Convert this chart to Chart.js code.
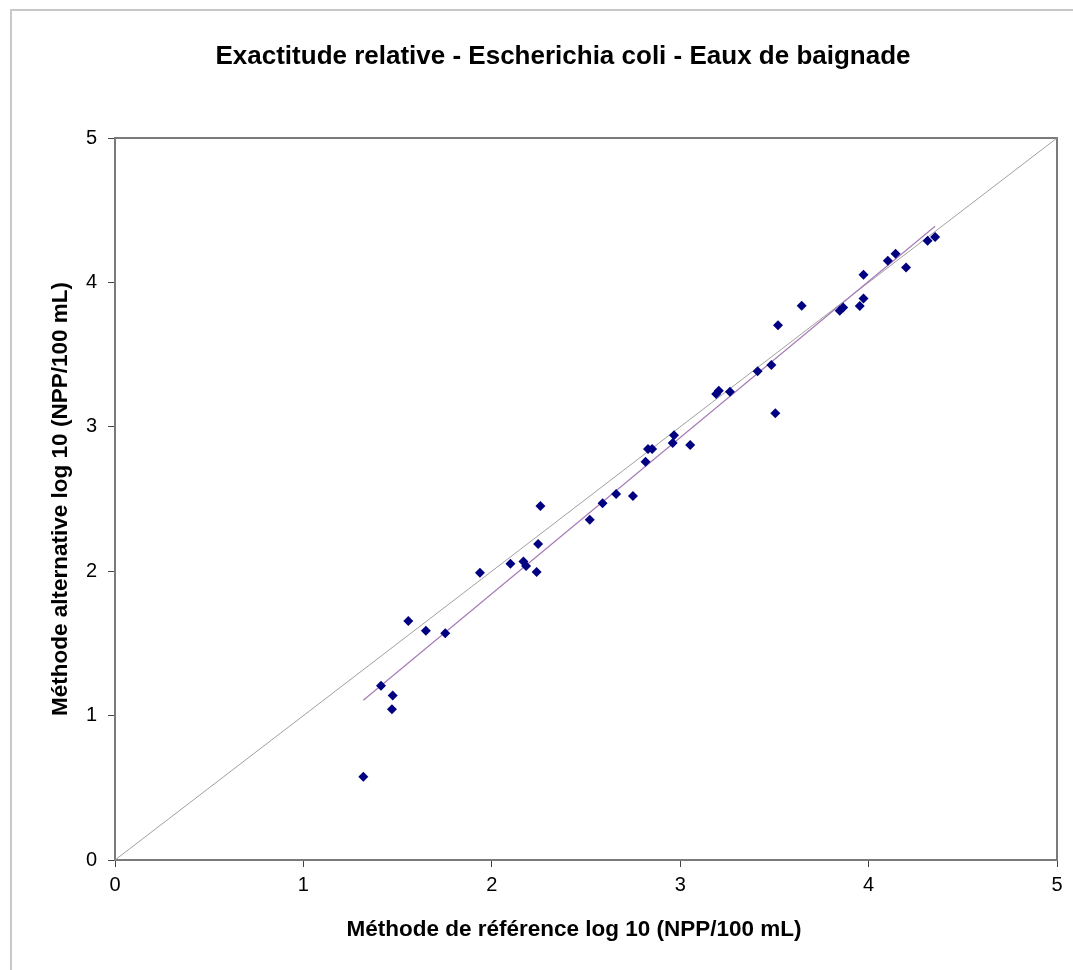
<!DOCTYPE html>
<html>
<head>
<meta charset="utf-8">
<title>Exactitude relative - Escherichia coli</title>
<script src="https://cdn.jsdelivr.net/npm/chart.js@4.4.1/dist/chart.umd.min.js"></script>
<style>
  html, body { margin: 0; padding: 0; background: #fff; }
  #wrap { position: relative; width: 1073px; height: 970px; }
  #frame {
    position: absolute; left: 10px; top: 9px; width: 1100px; height: 1000px;
    border-left: 2px solid #c8c8c8; border-top: 2px solid #c8c8c8;
    pointer-events: none;
  }
  canvas { position: absolute; left: 0; top: 0; }
</style>
</head>
<body>
<div id="wrap">
  <canvas id="chart" width="1073" height="970"></canvas>
  <div id="frame"></div>
</div>
<script>
// log10 counts, reference method (x) vs alternative method (y)
const refLog = [
  1.318, 1.412, 1.474, 1.470, 1.557, 1.650, 1.753, 1.937, 2.099, 2.168,
  2.182, 2.238, 2.246, 2.258, 2.520, 2.588, 2.660, 2.749, 2.816, 2.829,
  2.851, 2.960, 2.967, 3.053, 3.191, 3.205, 3.264, 3.411, 3.484, 3.505,
  3.519, 3.645, 3.847, 3.865, 3.953, 3.973, 3.973, 4.102, 4.143, 4.199,
  4.313, 4.353
];
const altLog = [
  0.577, 1.207, 1.140, 1.044, 1.655, 1.588, 1.570, 1.990, 2.052, 2.068,
  2.036, 1.994, 2.188, 2.452, 2.357, 2.470, 2.535, 2.521, 2.758, 2.846,
  2.846, 2.888, 2.941, 2.874, 3.227, 3.250, 3.243, 3.384, 3.428, 3.093,
  3.703, 3.839, 3.804, 3.827, 3.836, 3.889, 4.053, 4.150, 4.199, 4.104,
  4.289, 4.314
];
const axisTicks = [0, 1, 2, 3, 4, 5];
const axisMin = axisTicks[0];
const axisMax = axisTicks[axisTicks.length - 1];
const chartTitle = "Exactitude relative - Escherichia coli - Eaux de baignade";
const xTitle = "Méthode de référence log 10 (NPP/100 mL)";
const yTitle = "Méthode alternative log 10 (NPP/100 mL)";

const points = refLog.map((x, i) => ({ x, y: altLog[i] }));

// least squares fit, drawn across the range of the reference values
const n = refLog.length;
const mx = refLog.reduce((a, b) => a + b, 0) / n;
const my = altLog.reduce((a, b) => a + b, 0) / n;
let sxy = 0, sxx = 0;
for (let i = 0; i < n; i++) {
  sxy += (refLog[i] - mx) * (altLog[i] - my);
  sxx += (refLog[i] - mx) ** 2;
}
const slope = sxy / sxx;
const intercept = my - slope * mx;
const xLo = Math.min(...refLog);
const xHi = Math.max(...refLog);
const fitLine = [
  { x: xLo, y: intercept + slope * xLo },
  { x: xHi, y: intercept + slope * xHi },
];
const identityLine = [
  { x: axisMin, y: axisMin },
  { x: axisMax, y: axisMax },
];

const font = "'Liberation Sans', Arial, sans-serif";

// grey box round the plot area
const plotBorder = {
  id: "plotBorder",
  beforeDatasetsDraw(chart) {
    const { ctx, chartArea: a } = chart;
    ctx.save();
    ctx.strokeStyle = "#7a7a7a";
    ctx.lineWidth = 2;
    ctx.strokeRect(a.left, a.top, a.right - a.left, a.bottom - a.top);
    ctx.restore();
  },
};

// main title and x title are centred on the frame, not on the plot
const frameTexts = {
  id: "frameTexts",
  afterDraw(chart) {
    const { ctx } = chart;
    ctx.save();
    ctx.fillStyle = "#000";
    ctx.textAlign = "center";
    ctx.textBaseline = "middle";
    ctx.font = "bold 26px " + font;
    ctx.fillText(chartTitle, 563, 57);
    ctx.font = "bold 22.5px " + font;
    ctx.fillText(xTitle, 574, 930);
    ctx.restore();
  },
};

new Chart(document.getElementById("chart"), {
  type: "scatter",
  data: {
    datasets: [
      {
        label: "y = x",
        data: identityLine,
        showLine: true,
        borderColor: "#a0a0a0",
        borderWidth: 1,
        pointRadius: 0,
        order: 3,
      },
      {
        label: "Régression",
        data: fitLine,
        showLine: true,
        borderColor: "#a87bb8",
        borderWidth: 1.2,
        pointRadius: 0,
        order: 2,
      },
      {
        label: "Échantillons",
        data: points,
        pointStyle: "rectRot",
        pointRadius: 5,
        backgroundColor: "#000080",
        borderColor: "#000080",
        borderWidth: 0,
        order: 1,
      },
    ],
  },
  options: {
    responsive: false,
    animation: false,
    layout: { padding: { left: 0, right: 16, top: 138, bottom: 0 } },
    plugins: {
      legend: { display: false },
      tooltip: { enabled: false },
      title: { display: false },
    },
    scales: {
      x: {
        type: "linear",
        min: axisMin,
        max: axisMax,
        afterBuildTicks: (s) => { s.ticks = axisTicks.map((v) => ({ value: v })); },
        afterFit: (s) => { s.height = 110; },
        grid: { drawOnChartArea: false, drawTicks: true, tickLength: 7, color: "#444" },
        border: { color: "#222", width: 2 },
        ticks: { color: "#000", padding: 6, font: { family: font, size: 20 } },
        title: { display: false },
      },
      y: {
        type: "linear",
        min: axisMin,
        max: axisMax,
        afterBuildTicks: (s) => { s.ticks = axisTicks.map((v) => ({ value: v })); },
        afterFit: (s) => { s.width = 115; },
        grid: { drawOnChartArea: false, drawTicks: true, tickLength: 7, color: "#444" },
        border: { color: "#222", width: 2 },
        ticks: { color: "#000", padding: 11, font: { family: font, size: 20 } },
        title: {
          display: true,
          text: yTitle,
          color: "#000",
          font: { family: font, size: 22.5, weight: "bold" },
          padding: { top: 47, bottom: 0 },
        },
      },
    },
  },
  plugins: [plotBorder, frameTexts],
});
</script>
</body>
</html>
